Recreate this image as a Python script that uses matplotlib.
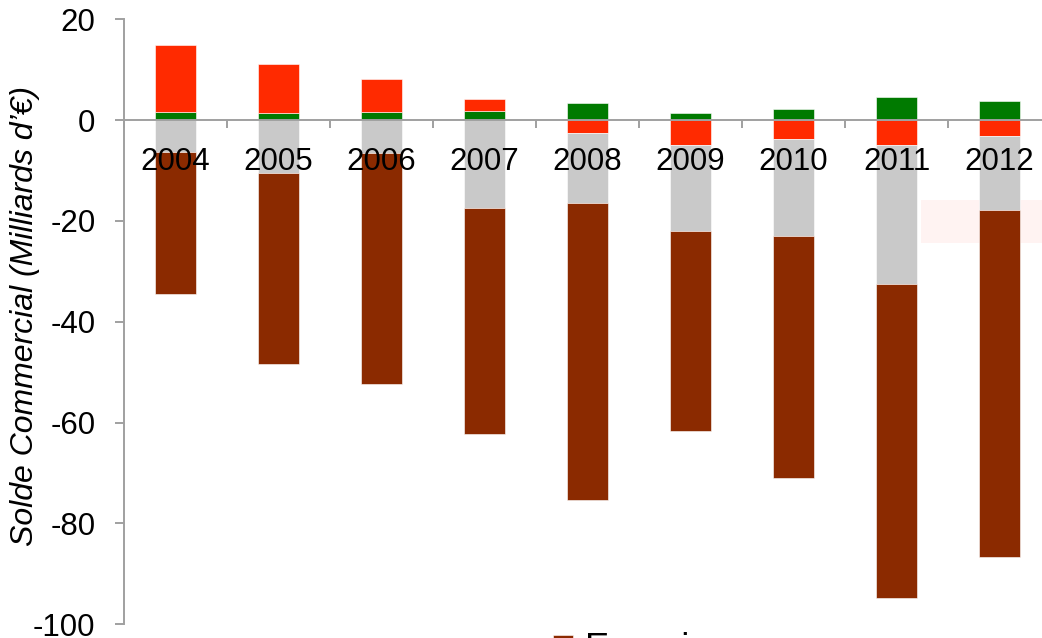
import matplotlib
matplotlib.use('Agg')
import matplotlib.pyplot as plt
from matplotlib.patches import Rectangle
import numpy as np

plt.rcParams['font.family'] = ['Liberation Sans', 'DejaVu Sans']
plt.rcParams['axes.unicode_minus'] = False

years = ["2004", "2005", "2006", "2007", "2008", "2009", "2010", "2011", "2012"]

# trade balance by sector, billions of euros
agri = [1.6, 1.4, 1.65, 1.9, 3.35, 1.5, 2.2, 4.6, 3.75]
auto = [13.3, 9.8, 6.45, 2.2, -2.6, -4.9, -3.7, -5.0, -3.1]
manuf = [-6.3, -10.4, -6.5, -17.5, -13.8, -17.1, -19.3, -27.5, -14.7]
energie = [-28.2, -38.0, -45.8, -44.7, -59.0, -39.6, -48.0, -62.2, -68.9]

series = [
    ("Agriculture", agri, "#007a00"),
    ("Automobile", auto, "#ff2a00"),
    ("Autres produits manufacturés", manuf, "#c9c9c9"),
    ("Energie", energie, "#8b2a00"),
]

fig = plt.figure(figsize=(10.42, 6.38), dpi=100)
ax = fig.add_axes([124 / 1042, 13.7 / 638, 927 / 1042, 605 / 638])
ax.set_axisbelow(False)

x = np.arange(len(years))
pos = np.zeros(len(years))
neg = np.zeros(len(years))
handles = {}
for name, vals, color in series:
    vals = np.array(vals)
    bottom = np.where(vals >= 0, pos, neg)
    b = ax.bar(x, vals, 0.4, bottom=bottom, color=color, edgecolor="#ffffff",
               linewidth=0.4, label=name, zorder=2)
    handles[name] = b
    pos = pos + np.where(vals >= 0, vals, 0)
    neg = neg + np.where(vals < 0, vals, 0)

# faint highlight box behind the right-hand bars
ax.add_patch(Rectangle((921 / 1042, 1 - 243 / 638), 130 / 1042, 43 / 638,
                       transform=fig.transFigure, facecolor="#fff3f2",
                       edgecolor="none", zorder=1, clip_on=False))

ax.set_xlim(-0.5, 8.5)
ax.set_ylim(-100, 20)
ax.set_yticks(np.arange(-100, 21, 20))

ax.set_xticks(np.arange(-0.5, 9, 1))
ax.set_xticklabels([])
ax.set_xticks(x, minor=True)
ax.set_xticklabels(years, minor=True)

ax.spines["top"].set_visible(False)
ax.spines["right"].set_visible(False)
ax.spines["bottom"].set_position(("data", 0))
for s in ("left", "bottom"):
    ax.spines[s].set_color("#a0a0a0")
    ax.spines[s].set_linewidth(1.4)

ax.tick_params(axis="x", which="major", length=6, width=1.4, color="#a0a0a0")
ax.tick_params(axis="x", which="minor", length=0, pad=19, labelsize=22.5)
ax.tick_params(axis="y", length=6.5, width=1.4, color="#a0a0a0", pad=14, labelsize=22.5)

fig.text(25 / 1042, 1 - 316 / 638, "Solde Commercial (Milliards d\u2019\u20ac)",
         rotation=90, ha="center", va="center", fontsize=23, style="italic")

fig.legend([handles["Energie"]], ["Energie"], loc="upper left",
           bbox_to_anchor=(553 / 1042, 1 - 632 / 638), frameon=False,
           fontsize=26, borderpad=0, borderaxespad=0, handlelength=0.55,
           handleheight=0.55, handletextpad=0.35)

fig.savefig("out.png", dpi=100)
